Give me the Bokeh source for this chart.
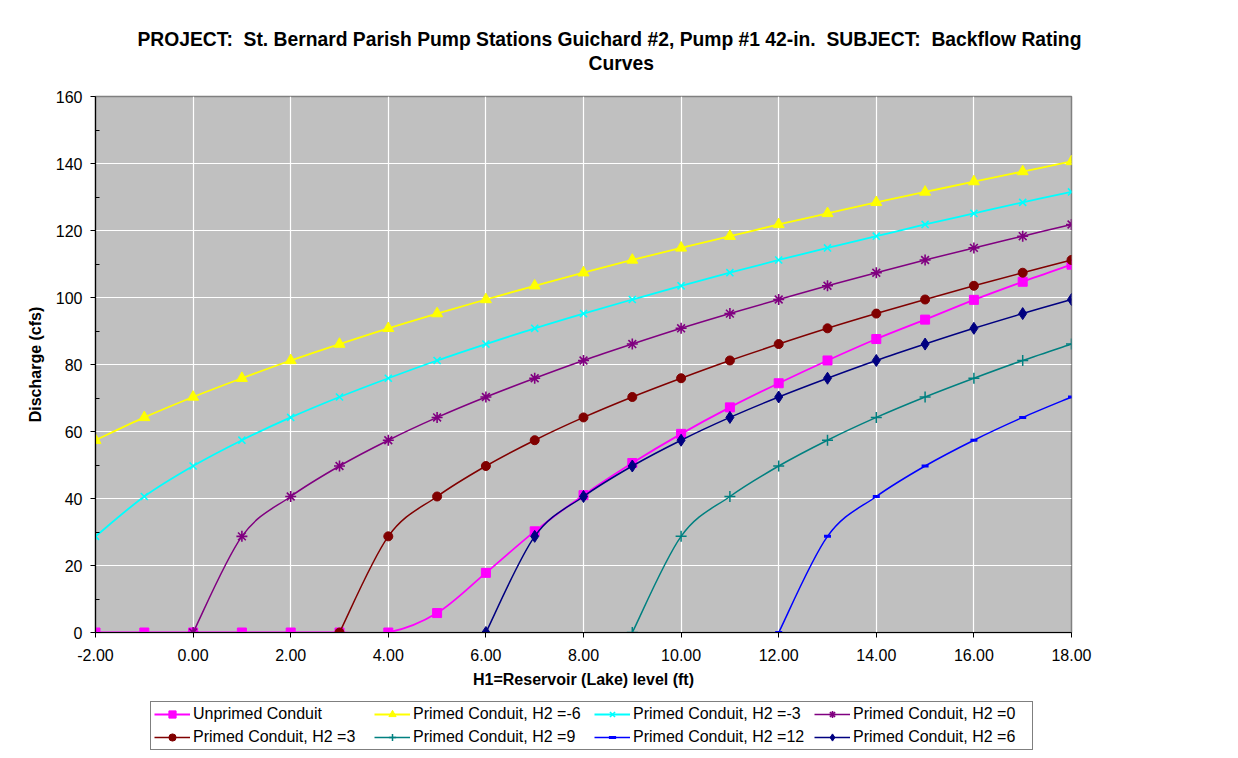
from bokeh.plotting import figure
from bokeh.layouts import column
from bokeh.models import (Legend, LegendItem, FixedTicker, NumeralTickFormatter,
                          Title, ColumnDataSource)
from bokeh.embed import file_html
from bokeh.resources import INLINE

# ---------------- data ----------------
x_unprimed = [-2, -1, 0, 1, 2, 3, 4, 5, 6, 7, 8, 9, 10, 11, 12, 13, 14, 15, 16, 17, 18]
q_unprimed = [0, 0, 0, 0, 0, 0, 0, 5.8, 17.8, 30.2, 41.0, 50.6, 59.3, 67.2, 74.4,
              81.2, 87.6, 93.4, 99.3, 104.7, 109.8]

x_h2_m6 = [-2, -1, 0, 1, 2, 3, 4, 5, 6, 7, 8, 9, 10, 11, 12, 13, 14, 15, 16, 17, 18]
q_h2_m6 = [57.4, 64.2, 70.3, 75.9, 81.2, 86.1, 90.8, 95.2, 99.4, 103.5, 107.4,
           111.2, 114.8, 118.3, 121.8, 125.1, 128.4, 131.5, 134.6, 137.6, 140.6]

x_h2_m3 = [-2, -1, 0, 1, 2, 3, 4, 5, 6, 7, 8, 9, 10, 11, 12, 13, 14, 15, 16, 17, 18]
q_h2_m3 = [28.7, 40.6, 49.7, 57.4, 64.2, 70.3, 75.9, 81.2, 86.1, 90.8, 95.2, 99.4,
           103.5, 107.4, 111.2, 114.8, 118.3, 121.8, 125.1, 128.4, 131.5]

x_h2_0 = [0, 1, 2, 3, 4, 5, 6, 7, 8, 9, 10, 11, 12, 13, 14, 15, 16, 17, 18]
q_h2_0 = [0, 28.7, 40.6, 49.7, 57.4, 64.2, 70.3, 75.9, 81.2, 86.1, 90.8, 95.2, 99.4,
          103.5, 107.4, 111.2, 114.8, 118.3, 121.8]

x_h2_3 = [3, 4, 5, 6, 7, 8, 9, 10, 11, 12, 13, 14, 15, 16, 17, 18]
q_h2_3 = [0, 28.7, 40.6, 49.7, 57.4, 64.2, 70.3, 75.9, 81.2, 86.1, 90.8, 95.2, 99.4,
          103.5, 107.4, 111.2]

x_h2_9 = [9, 10, 11, 12, 13, 14, 15, 16, 17, 18]
q_h2_9 = [0, 28.7, 40.6, 49.7, 57.4, 64.2, 70.3, 75.9, 81.2, 86.1]

x_h2_12 = [12, 13, 14, 15, 16, 17, 18]
q_h2_12 = [0, 28.7, 40.6, 49.7, 57.4, 64.2, 70.3]

x_h2_6 = [6, 7, 8, 9, 10, 11, 12, 13, 14, 15, 16, 17, 18]
q_h2_6 = [0, 28.7, 40.6, 49.7, 57.4, 64.2, 70.3, 75.9, 81.2, 86.1, 90.8, 95.2, 99.4]

series_labels = ["Unprimed Conduit", "Primed Conduit, H2 =-6", "Primed Conduit, H2 =-3",
                 "Primed Conduit, H2 =0", "Primed Conduit, H2 =3", "Primed Conduit, H2 =9",
                 "Primed Conduit, H2 =12", "Primed Conduit, H2 =6"]

x_ticks = [-2, 0, 2, 4, 6, 8, 10, 12, 14, 16, 18]
y_ticks = [0, 20, 40, 60, 80, 100, 120, 140, 160]
y_minor_ticks = [10, 30, 50, 70, 90, 110, 130, 150]

NB = "\u00a0"
title_line1 = ("PROJECT:" + NB + " St. Bernard Parish Pump Stations Guichard #2, Pump #1 42-in."
               + NB + " SUBJECT:" + NB + " Backflow Rating")
title_line2 = "Curves"
x_label = "H1=Reservoir (Lake) level (ft)"
y_label = "Discharge (cfs)"

FONT = "Liberation Sans"

# ---------------- main chart ----------------
p = figure(width=1238, height=700, x_range=(-2, 18), y_range=(0, 160),
           output_backend="svg", toolbar_location=None, title=None,
           min_border_left=95, min_border_right=167, min_border_top=96,
           min_border_bottom=68)

p.background_fill_color = "#C0C0C0"
p.border_fill_color = "white"
p.outline_line_color = "#808080"
p.outline_line_width = 1.5

t2 = Title(text=title_line2, align="left", offset=493, text_font=FONT,
           text_font_size="19.3px", text_font_style="bold", text_color="black",
           standoff=45)
t1 = Title(text=title_line1, align="left", offset=42, text_font=FONT,
           text_font_size="19.3px", text_font_style="bold", text_color="black",
           standoff=-42)
p.add_layout(t2, "above")
p.add_layout(t1, "above")

xa = p.xaxis[0]
xa.ticker = FixedTicker(ticks=x_ticks)
xa.formatter = NumeralTickFormatter(format="0.00")
xa.axis_label = x_label
ya = p.yaxis[0]
ya.ticker = FixedTicker(ticks=y_ticks, minor_ticks=y_minor_ticks)
ya.axis_label = y_label
for ax in (xa, ya):
    ax.axis_line_color = "black"
    ax.axis_line_width = 1.2
    ax.major_tick_line_color = "black"
    ax.minor_tick_line_color = "black"
    ax.major_tick_out = 5
    ax.major_tick_in = 0
    ax.major_label_text_font = FONT
    ax.major_label_text_font_size = "16px"
    ax.major_label_text_color = "black"
    ax.axis_label_text_font = FONT
    ax.axis_label_text_font_size = "16px"
    ax.axis_label_text_font_style = "bold"
    ax.axis_label_text_color = "black"
xa.minor_tick_line_color = None
xa.major_label_standoff = 11
xa.axis_label_standoff = 7
ya.minor_tick_in = 4
ya.minor_tick_out = 0
ya.major_label_standoff = 8
ya.axis_label_standoff = 9

p.xgrid.ticker = FixedTicker(ticks=x_ticks)
p.ygrid.ticker = FixedTicker(ticks=y_ticks)
for g in (p.xgrid[0], p.ygrid[0]):
    g.grid_line_color = "white"
    g.grid_line_width = 1.2


def smooth(xs, ys):
    """Bezier segments (Catmull-Rom style smoothing like Excel's smoothed lines)."""
    n = len(xs)
    d = dict(x0=[], y0=[], x1=[], y1=[], cx0=[], cy0=[], cx1=[], cy1=[])
    for i in range(n - 1):
        a = i - 1 if i > 0 else i
        b = i + 2 if i + 2 < n else i + 1
        d["x0"].append(xs[i]); d["y0"].append(ys[i])
        d["x1"].append(xs[i + 1]); d["y1"].append(ys[i + 1])
        d["cx0"].append(xs[i] + (xs[i + 1] - xs[a]) / 6.0)
        d["cy0"].append(ys[i] + (ys[i + 1] - ys[a]) / 6.0)
        d["cx1"].append(xs[i + 1] - (xs[b] - xs[i]) / 6.0)
        d["cy1"].append(ys[i + 1] - (ys[b] - ys[i]) / 6.0)
    return ColumnDataSource(d)


series = [
    (x_unprimed, q_unprimed, "#FF00FF", dict(marker="square", size=9, fill_color="#FF00FF", line_color="#FF00FF"), 1.8),
    (x_h2_m6, q_h2_m6, "#FFFF00", dict(marker="triangle", size=11, fill_color="#FFFF00", line_color="#FFFF00"), 1.8),
    (x_h2_m3, q_h2_m3, "#00FFFF", dict(marker="x", size=10, line_color="#00FFFF", line_width=1.6), 1.8),
    (x_h2_0, q_h2_0, "#800080", dict(marker="asterisk", size=11, line_color="#800080", line_width=1.6), 1.5),
    (x_h2_3, q_h2_3, "#800000", dict(marker="circle", size=9, fill_color="#800000", line_color="#800000"), 1.5),
    (x_h2_9, q_h2_9, "#008080", dict(marker="cross", size=11, line_color="#008080", line_width=1.5), 1.5),
    (x_h2_12, q_h2_12, "#0000FF", dict(marker="dash", size=7, line_color="#0000FF", line_width=3), 1.5),
    (x_h2_6, q_h2_6, "#000080", dict(marker="diamond", size=12, fill_color="#000080", line_color="#000080"), 1.5),
]

# ---------------- legend strip (separate canvas below the chart) ----------------
pl = figure(width=1238, height=58, x_range=(1000, 2000), y_range=(1000, 2000),
            output_backend="svg", toolbar_location=None, title=None,
            x_axis_type=None, y_axis_type=None,
            min_border_left=95, min_border_right=167, min_border_top=0, min_border_bottom=0)
pl.grid.visible = False
pl.outline_line_color = None
pl.background_fill_color = "white"
pl.border_fill_color = "white"

items = []
for (xs, ys, col, mk, lw), lab in zip(series, series_labels):
    src = smooth(xs, ys)
    bez = dict(x0="x0", y0="y0", x1="x1", y1="y1", cx0="cx0", cy0="cy0",
               cx1="cx1", cy1="cy1", source=src, line_color=col, line_width=lw)
    p.bezier(**bez)
    p.scatter(xs, ys, **mk)
    # same series on the legend canvas (outside its visible range) to key the legend
    br = pl.bezier(**bez)
    sr = pl.scatter(xs, ys, **mk)
    items.append(LegendItem(label=lab, renderers=[br, sr]))

legend = Legend(items=items, orientation="horizontal", ncols=4,
                location=(55, 8),
                label_text_font=FONT, label_text_font_size="16px",
                label_text_color="black",
                glyph_width=36, glyph_height=18, label_standoff=3,
                label_width=176, label_height=18, spacing=5, padding=3, margin=0,
                border_line_color="black", border_line_width=1,
                background_fill_color="white", background_fill_alpha=1)
pl.add_layout(legend, "center")

page = column(p, pl, spacing=0)
open("out.html", "w").write(file_html(page, INLINE))
